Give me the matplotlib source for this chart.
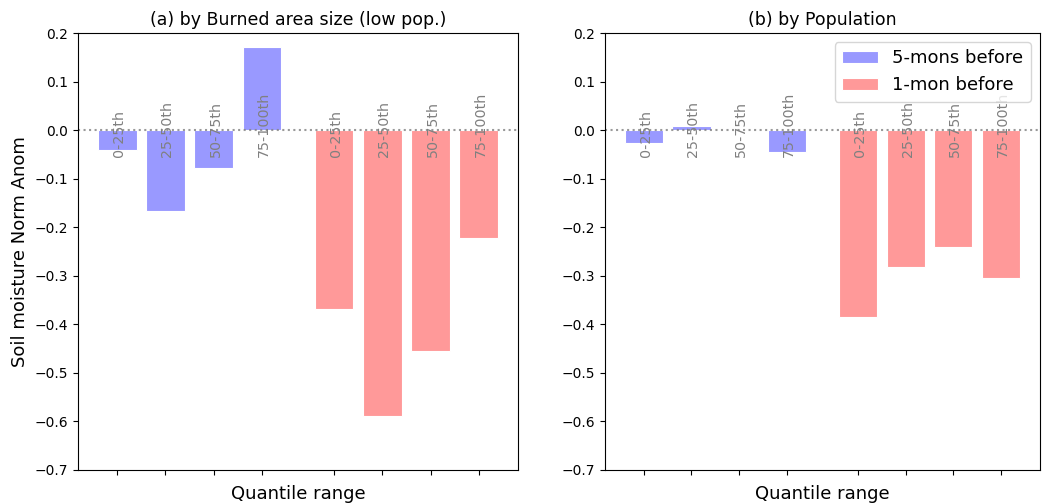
import numpy as np
import matplotlib
matplotlib.use('Agg')
import matplotlib.pyplot as plt

quantiles = ['0-25th', '25-50th', '50-75th', '75-100th']

# (a) by burned area size (low pop.)
burn_5mon = [-0.041, -0.167, -0.078, 0.172]
burn_1mon = [-0.369, -0.589, -0.455, -0.222]

# (b) by population
pop_5mon = [-0.027, 0.008, 0.0, -0.045]
pop_1mon = [-0.385, -0.282, -0.241, -0.305]

titles = ['(a) by Burned area size (low pop.)', '(b) by Population']

blue = (153/255, 153/255, 1.0)
red = (1.0, 153/255, 153/255)

fig = plt.figure(figsize=(10.45, 5.04), dpi=100)
ax1 = fig.add_axes([0.0746, 0.0675, 0.4211, 0.867])
ax2 = fig.add_axes([0.579, 0.0675, 0.416, 0.867])

x_blue = np.arange(4)
x_red = np.arange(4) + 4.5

for ax, b, r, title in [(ax1, burn_5mon, burn_1mon, titles[0]),
                        (ax2, pop_5mon, pop_1mon, titles[1])]:
    ax.bar(x_blue, b, width=0.8, color=blue, edgecolor='white', linewidth=0.8, label='5-mons before')
    ax.bar(x_red, r, width=0.8, color=red, edgecolor='white', linewidth=0.8, label='1-mon before')
    ax.axhline(0, color='gray', linestyle=':', linewidth=1.5, alpha=0.8)
    for xs in (x_blue, x_red):
        for xi, q in zip(xs, quantiles):
            ax.text(xi + 0.04, -0.055, q, rotation=90, ha='center', va='bottom',
                    color='gray', fontsize=10.3)
    ax.set_ylim(-0.7, 0.2)
    ax.set_xticks(np.concatenate([x_blue, x_red]))
    ax.set_xticklabels([])
    ax.set_title(title, fontsize=12.5)
    ax.set_xlabel('Quantile range', fontsize=13)
    ax.tick_params(labelsize=10)

ax1.set_ylabel('Soil moisture Norm Anom', fontsize=13)
ax2.legend(loc='upper right', fontsize=13)

plt.savefig('out.png', dpi=100)
